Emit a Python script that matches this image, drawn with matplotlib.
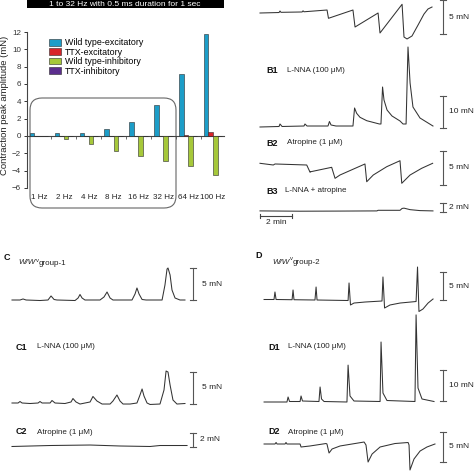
import matplotlib
matplotlib.use("Agg")
import matplotlib.pyplot as plt
from matplotlib.patches import FancyBboxPatch, Rectangle, Patch
import numpy as np

plt.rcParams['font.family'] = ['Liberation Sans', 'DejaVu Sans']

W = H = 474
INK = '#333333'
PX_PER_MIN = 16.0

# ---- bar chart data (mN) ----
freqs = ['1 Hz', '2 Hz', '4 Hz', '8 Hz', '16 Hz', '32 Hz', '64 Hz', '100 Hz']
wt_exc = [0.4, 0.4, 0.35, 0.8, 1.65, 3.6, 7.2, 11.8]
ttx_exc = [0, 0, 0, 0, 0, 0, 0.1, 0.45]
wt_inh = [0, -0.3, -0.9, -1.7, -2.3, -2.85, -3.45, -4.5]
ttx_inh = [0, 0, 0, 0, 0, 0, 0, 0]
series_names = ['Wild type-excitatory', 'TTX-excitatory', 'Wild type-inhibitory', 'TTX-inhibitory']
series_colors = ['#1c9dc8', '#d8232a', '#a6c83a', '#5c2e8e']
y_ticks = [-6, -4, -2, 0, 2, 4, 6, 8, 10, 12]

# ---- traces: time (min), force (mN) ----
b_t = [0, 1.19, 1.25, 1.31, 2.63, 2.69, 2.75, 4.19, 4.28, 5.81, 5.94, 7.38, 7.5, 8.88, 9.0, 9.19, 9.5, 9.88, 10.25, 10.5, 10.75]
b_f = [0, 0.07, 0.29, 0.1, 0.15, 0.32, 0.18, 0.44, -0.78, 0.44, -2.06, 0, -2.94, 1.28, -3.53, -3.82, -3.38, -1.76, -0.15, 0.59, 0.88]

b1_t = [0, 1.19, 1.25, 1.38, 2.75, 2.81, 2.94, 4.25, 4.34, 4.44, 4.75, 5.81, 5.91, 6.04, 6.25, 6.67, 7.46,
        7.56, 7.66, 7.75, 7.94, 8.25, 8.75, 8.94, 9.13, 9.25, 9.38, 9.56, 10.0, 10.81]
b1_f = [0, 0.16, 0.94, 0.16, 0.31, 0.94, 0.31, 0.31, 1.72, 0.63, 0.31, 0.31, 5.94, 4.28, 3.03, 1.97, 0.94,
        0.94, 12.5, 8.44, 5.31, 3.44, 1.88, 0.94, 0.94, 25.0, 13.75, 6.25, 2.81, 0.31]

b2_t = [0, 0.83, 0.94, 2.92, 3.13, 3.17, 4.48, 4.69, 5.0, 6.56, 6.67, 7.08, 7.92, 8.75, 8.86, 9.38, 10.1, 10.79]
b2_f = [0, -0.25, -0.1, -0.25, -1.32, -1.24, -0.59, -2.21, -1.72, -0.1, -2.71, -1.72, -0.5, 0.38, -2.94, -1.72, -0.74, 0]

b3_t = [0, 2.5, 5.0, 7.31, 7.38, 8.75, 8.88, 9.0, 9.38, 10.0, 10.81]
b3_f = [0, -0.07, -0.04, 0, 0.14, 0.14, 0.57, 0.64, 0.29, 0.07, 0]

c_t = [0, 0.5, 0.69, 0.88, 1.75, 2.25, 2.44, 2.63, 2.81, 3.94, 4.13, 4.25, 4.38, 4.56, 5.5, 5.75, 5.94, 6.13, 6.31,
       7.5, 7.69, 7.81, 7.94, 8.13, 8.38, 9.38, 9.56, 9.69, 9.75, 9.88, 10.0, 10.19, 10.5, 10.81]
c_f = [0, 0, 0.16, 0, -0.08, 0, 0.63, 0.08, 0, -0.08, 0.31, 0.86, 0.31, 0, 0, 0.47, 1.25, 0.31, 0,
       0, 0.94, 1.88, 0.94, 0.08, 0, 0, 2.34, 4.84, 5.0, 3.91, 1.56, 0.31, 0, 0]

c1_t = [0, 0.38, 0.5, 0.63, 1.13, 1.63, 1.75, 1.88, 2.38, 2.5, 2.69, 3.31, 3.69, 3.81, 4.0, 4.25, 4.88, 5.06, 5.31, 5.63,
        6.13, 6.31, 6.56, 6.75, 6.94, 7.38, 7.81, 8.0, 8.13, 8.25, 8.44, 8.63, 9.25, 9.5, 9.63, 9.75, 9.88, 10.06, 10.31, 10.81]
c1_f = [0, 0, 0.23, 0, -0.08, 0, 0.23, 0, 0, 0.39, 0, -0.08, 0.16, 0.70, 0.16, -0.16, 0.16, 1.02, 0.31, -0.16,
        -0.16, 0.31, 1.25, 0.31, -0.16, -0.16, 0, 1.25, 2.19, 1.09, 0, -0.23, -0.16, 2.03, 5.0, 4.84, 2.81, 0.47, -0.16, -0.08]

c2_t = [0, 2.38, 4.88, 6.75, 8.63, 9.25, 10.94]
c2_f = [-0.07, 0.07, 0.14, 0, -0.07, 0.07, 0.07]

d_t = [0.13, 0.75, 0.81, 0.88, 1.88, 1.94, 2.0, 3.31, 3.38, 3.44, 5.38, 5.44, 5.53, 5.75, 6.44, 7.5, 7.56, 7.66,
       8.0, 8.63, 9.63, 9.72, 9.81, 10.06, 10.38, 10.69]
d_f = [0, 0, 1.34, 0, -0.04, 1.7, -0.04, -0.09, 2.23, -0.09, -0.18, 2.95, -0.98, -0.63, -0.45, -0.27, 4.02, -1.52,
       -0.98, -0.63, -0.36, 5.8, -2.14, -1.7, -0.63, 0.09]

d1_t = [0.13, 1.56, 1.63, 1.72, 2.38, 2.44, 2.53, 3.56, 3.63, 3.72, 3.88, 5.31, 5.38, 5.5, 5.75, 7.38, 7.44, 7.56,
        7.81, 9.56, 9.63, 9.75, 10.0, 10.75]
d1_f = [0, 0, 1.61, 0.16, 0.16, 1.94, 0.32, 0.16, 4.84, 0.97, 0.16, 0, 11.9, 1.94, 0.32, 0.16, 19.35, 2.9,
        0.48, 0.16, 28.1, 4.52, 0.97, 0.16]

d2_t = [0.13, 0.81, 0.88, 0.94, 1.44, 1.5, 1.56, 2.38, 2.44, 3.0, 4.0, 4.06, 4.19, 4.38, 4.88, 6.38, 6.5, 6.63,
        6.88, 7.38, 8.31, 9.13, 9.19, 9.25, 9.5, 9.88, 10.31, 10.81]
d2_f = [0, 0, 0.25, 0, 0, 0.25, 0, 0, -0.5, -0.33, 0.08, 0, -1.5, -0.83, -0.33, 0.33, -0.17, -3.0,
        -1.67, -0.5, 0.08, 0.25, -0.17, -4.33, -2.5, -1.17, -0.5, 0]


def px_axes(fig, left, top, right, bottom):
    return fig.add_axes([left / W, 1 - bottom / H, (right - left) / W, (bottom - top) / H])


def trace_panel(fig, t, f, x0, base, k, bar, bar_label, tbar, lab_dx=0.4):
    '''x0/base: pixel position of t=0, f=0; k: pixels per mN'''
    fmin = min(min(f), bar[0]) - 1
    fmax = max(max(f), bar[1]) + 1
    tmax = 12.5
    ax = px_axes(fig, x0, base - fmax * k, x0 + tmax * PX_PER_MIN, base - fmin * k)
    ax.set_xlim(0, tmax)
    ax.set_ylim(fmin, fmax)
    ax.axis('off')
    ax.plot(t, f, color=INK, lw=0.75, clip_on=False, solid_joinstyle='round')
    cap = 0.2
    ax.plot([tbar, tbar], bar, color='#555555', lw=0.8, clip_on=False)
    for y in bar:
        ax.plot([tbar - cap, tbar + cap], [y, y], color='#555555', lw=0.8, clip_on=False)
    ax.text(tbar + lab_dx, (bar[0] + bar[1]) / 2, bar_label, fontsize=6, va='center', ha='left', color='#222222')
    return ax


def strain_label(ax, x, y, group):
    # W/W^v followed by the group name
    ax.text(x, y, 'W/W', fontsize=5.8, style='italic', ha='left', va='center', color='#222222')
    ax.text(x + 17.5, y - 3, 'v', fontsize=4.2, ha='left', va='center', color='#222222')
    ax.text(x + 20.5, y + 0.5, group, fontsize=5.8, ha='left', va='center', color='#222222')


fig = plt.figure(figsize=(W / 100, H / 100), dpi=100)

# overlay in pixel coordinates for labels and frames
ov = fig.add_axes([0, 0, 1, 1])
ov.set_xlim(0, W)
ov.set_ylim(H, 0)
ov.axis('off')

ov.add_patch(Rectangle((27, -3), 197, 10.5, color='black', lw=0))
ov.text(125, 6.3, '1 to 32 Hz with 0.5 ms duration for 1 sec', color='white', fontsize=6,
        ha='center', va='baseline')
ov.add_patch(FancyBboxPatch((30, 98), 146, 110, boxstyle='round,pad=0,rounding_size=12',
                            fill=False, edgecolor='#666666', lw=0.8))
ov.text(5, 105, 'Contraction peak amplitude (mN)', rotation=90, fontsize=6.8,
        ha='center', va='center', color='#222222')

panel_labels = [('B1', 266, 70), ('B2', 266, 143), ('B3', 266, 191), ('C', 7, 258),
                ('C1', 16, 347), ('C2', 16, 432), ('D', 259, 256), ('D1', 268, 347), ('D2', 268, 432)]
for lab, x, y in panel_labels:
    ov.text(x, y, lab, fontsize=6.5, fontweight='bold', ha='left' if len(lab) > 1 else 'center',
            va='center', color='#111111')

condition_labels = [('L-NNA (100 μM)', 287, 70), ('Atropine (1 μM)', 287, 143), ('L-NNA + atropine', 285, 191),
                    ('L-NNA (100 μM)', 37, 347), ('Atropine (1 μM)', 37, 432),
                    ('L-NNA (100 μM)', 288, 347), ('Atropine (1 μM)', 288, 432)]
for lab, x, y in condition_labels:
    ov.text(x, y, lab, fontsize=5.8, ha='left', va='center', color='#222222')
strain_label(ov, 18, 263, 'group-1')
strain_label(ov, 272, 262, 'group-2')

# ---- bar chart ----
ax = px_axes(fig, 26.6, 32, 224, 188)
x = np.arange(len(freqs))
w = 0.185
offsets = [-1.5 * w, -0.5 * w, 0.5 * w, 1.5 * w]
for vals, off, col in zip([wt_exc, ttx_exc, wt_inh, ttx_inh], offsets, series_colors):
    ax.bar(x + off, vals, width=w, color=col, edgecolor='#2a2a2a', lw=0.4, zorder=3)
ax.set_xlim(-0.5, 7.44)
ax.set_ylim(-6, 12)
ax.set_yticks(y_ticks)
ax.tick_params(axis='y', labelsize=5.8, length=2.5, width=0.7, pad=1.5, colors='#333333')
ax.set_xticks(x[:-1] + 0.5)
ax.set_xticklabels([])
ax.tick_params(axis='x', length=2, width=0.6, colors='#555555')
for s in ['top', 'right']:
    ax.spines[s].set_visible(False)
ax.spines['bottom'].set_position(('data', 0))
ax.spines['bottom'].set_color('#444444')
ax.spines['left'].set_color('#444444')
ax.spines['bottom'].set_linewidth(0.8)
ax.spines['left'].set_linewidth(0.8)
ax.patch.set_alpha(0)
for i, lab in enumerate(freqs):
    ax.text(i, -7.05, lab, ha='center', va='center', fontsize=5.8, color='#222222')
handles = [Patch(facecolor=c, edgecolor='#2a2a2a', lw=0.4) for c in series_colors]
ax.legend(handles, series_names, loc='upper left', bbox_to_anchor=(0.113, 0.96), frameon=False,
          fontsize=6.4, handlelength=1.35, handleheight=0.8, handletextpad=0.45,
          labelspacing=0.05, borderpad=0, borderaxespad=0)

# ---- traces ----
trace_panel(fig, b_t, b_f, 260, 13, 6.8, (-3.09, 1.91), '5 mN', 11.44)
trace_panel(fig, b1_t, b1_f, 260, 127, 3.2, (-0.31, 9.69), '10 mN', 11.44)
trace_panel(fig, b2_t, b2_f, 260, 163.3, 6.8, (-3.19, 1.81), '5 mN', 11.44)
ax_b3 = trace_panel(fig, b3_t, b3_f, 260, 218, 7.0, (-0.14, 1.86), '2 mN', 11.44)
ax_b3.set_ylim(-3.5, 3)
ax_b3.plot([0, 2], [-1.14, -1.14], color='#444444', lw=0.8, clip_on=False)
for tt in [0, 2]:
    ax_b3.plot([tt, tt], [-1.57, -0.71], color='#444444', lw=0.8, clip_on=False)
ax_b3.text(1.0, -2.7, '2 min', ha='center', va='center', fontsize=6, color='#222222')

trace_panel(fig, c_t, c_f, 12, 300, 6.4, (0, 5), '5 mN', 11.31, lab_dx=0.55)
trace_panel(fig, c1_t, c1_f, 12, 403, 6.4, (-0.1, 4.9), '5 mN', 11.31, lab_dx=0.55)
trace_panel(fig, c2_t, c2_f, 12, 446, 7.0, (-0.14, 1.86), '2 mN', 11.31, lab_dx=0.45)

trace_panel(fig, d_t, d_f, 262, 299.5, 5.6, (-0.09, 4.91), '5 mN', 11.31)
trace_panel(fig, d1_t, d1_f, 262, 402, 3.1, (0.3, 10.3), '10 mN', 11.31)
trace_panel(fig, d2_t, d2_f, 262, 444, 6.0, (-3.0, 2.0), '5 mN', 11.31)

fig.savefig('out.png', dpi=100)
